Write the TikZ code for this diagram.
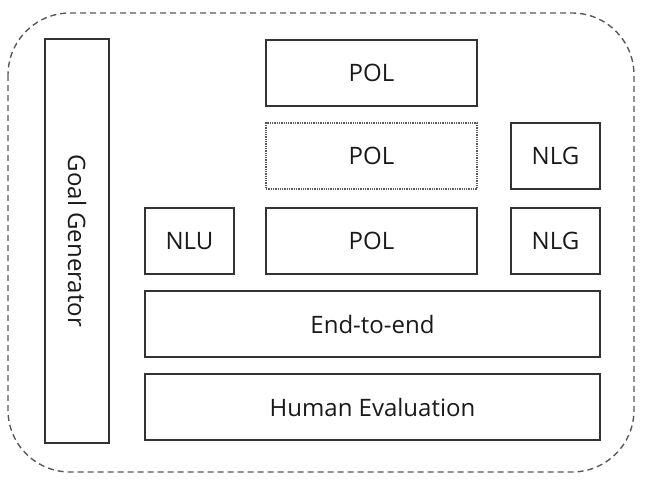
\documentclass[tikz,border=0pt]{standalone}
\usepackage{fontspec}
\setmainfont{Open Sans}
\begin{document}
\begin{tikzpicture}
    [
        x=1pt, y=-1pt,
        module/.style={draw=black!80, line width=1.3pt, inner sep=0pt, minimum height=66pt, font=\fontsize{24}{28}\selectfont, text=black!90},
        frame/.style={draw=black!65, dash pattern=on 6pt off 4pt, line width=1.4pt, rounded corners=62pt},
    ]
        \useasboundingbox (0,0) rectangle (650,496);
        \draw[frame] (8,13) rectangle (634,472);

        \node[module, minimum width=64pt, minimum height=404pt] (goal) at (77,241) {\rotatebox{-90}{Goal Generator}};
        \node[module, minimum width=211pt] (pol1) at (371.5,73) {POL};
        \node[module, minimum width=211pt, draw=black!65, densely dotted] (pol2) at (371.5,156) {POL};
        \node[module, minimum width=89pt] (nlg1) at (555.5,156) {NLG};
        \node[module, minimum width=89pt] (nlu) at (189.5,241) {NLU};
        \node[module, minimum width=211pt] (pol3) at (371.5,241) {POL};
        \node[module, minimum width=89pt] (nlg2) at (555.5,241) {NLG};
        \node[module, minimum width=455pt] (e2e) at (372.5,324) {End-to-end};
        \node[module, minimum width=455pt] (human) at (372.5,407) {Human Evaluation};
\end{tikzpicture}
\end{document}
